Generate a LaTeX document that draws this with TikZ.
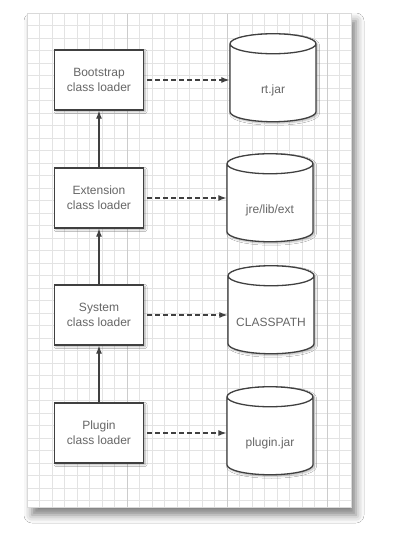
\documentclass[tikz,border=0pt]{standalone}
\usepackage{fontspec}
\setmainfont{Liberation Sans}
\usetikzlibrary{arrows.meta,shapes.geometric,shadows.blur}

\begin{document}
\begin{tikzpicture}[x=1pt,y=-1pt,
	loader/.style={draw=black!75, line width=1.3pt, fill=white, minimum width=89pt, minimum height=60pt, align=center, text=black!60, font=\fontsize{12}{15}\selectfont, blur shadow={shadow xshift=1.5pt, shadow yshift=-1.5pt, shadow blur radius=2pt, shadow opacity=35}},
	store/.style={cylinder, shape border rotate=90, aspect=0.38, draw=black!75, line width=1.3pt, fill=white, minimum width=86pt, minimum height=88pt, execute at begin node=\rule{46pt}{0pt}, blur shadow={shadow xshift=1.5pt, shadow yshift=-1.5pt, shadow blur radius=2pt, shadow opacity=30}, label={[text=black!60, font=\fontsize{12}{15}\selectfont, yshift=-5pt]center:#1}},
	parent/.style={draw=black!75, line width=1.2pt, -{Latex[length=8pt,width=6pt]}},
	source/.style={draw=black!75, line width=1.2pt, dash pattern=on 4.5pt off 3.5pt, shorten <=3pt, -{Latex[length=8pt,width=6pt]}}]
	\useasboundingbox (0,0) rectangle (402,538);
	\fill[white] (0,0) rectangle (402,538);
	% paper
	\fill[white, blur shadow={shadow xshift=5pt, shadow yshift=-8pt, shadow blur radius=8pt, shadow opacity=50}] (27,13) rectangle (351,507);
	\foreach \x in {0,...,25}{
		\draw[gray!22, line width=0.8pt] (27+12.5*\x,13) -- (27+12.5*\x,507);
	}
	\foreach \y in {0,...,39}{
		\draw[gray!22, line width=0.8pt] (27,13+12.5*\y) -- (351,13+12.5*\y);
	}
	\foreach \x in {127,227,327}{
		\draw[gray!40, line width=1pt] (\x,13) -- (\x,507);
	}
	\draw[gray!30, line width=0.8pt] (27,13) rectangle (351,507);

	\node[loader] (boot) at (99,80) {Bootstrap\\class loader};
	\node[loader] (ext) at (99,198) {Extension\\class loader};
	\node[loader] (sys) at (99,315) {System\\class loader};
	\node[loader] (plug) at (99,433) {Plugin\\class loader};

	\node[store=rt.jar] (rtjar) at (273,85) {};
	\node[store=jre/lib/ext] (jreext) at (270,205) {};
	\node[store=CLASSPATH] (classpath) at (271,317) {};
	\node[store=plugin.jar] (pluginjar) at (270,438) {};

	\draw[parent] (ext) -- (boot);
	\draw[parent] (sys) -- (ext);
	\draw[parent] (plug) -- (sys);

	\draw[source] (boot.east) -- (boot.east -| rtjar.west);
	\draw[source] (ext.east) -- (ext.east -| jreext.west);
	\draw[source] (sys.east) -- (sys.east -| classpath.west);
	\draw[source] (plug.east) -- (plug.east -| pluginjar.west);
\end{tikzpicture}
\end{document}
